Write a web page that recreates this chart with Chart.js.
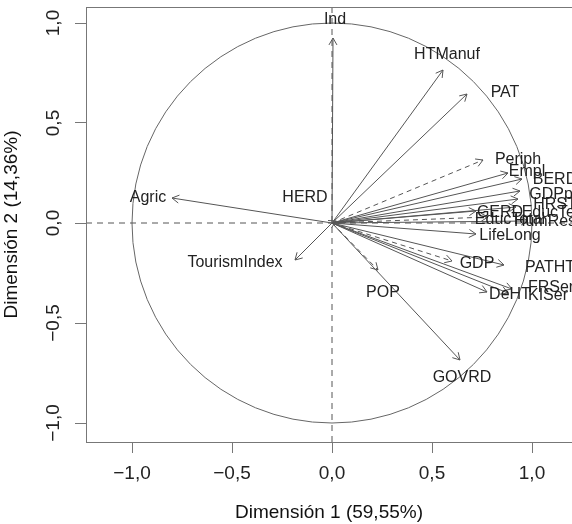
<!DOCTYPE html>
<html>
<head>
<meta charset="utf-8">
<script src="https://cdn.jsdelivr.net/npm/chart.js@4.4.1/dist/chart.umd.min.js"></script>
<style>
  html, body { margin: 0; padding: 0; background: #fff; }
  #wrap { width: 572px; height: 524px; position: relative; }
</style>
</head>
<body>
<div id="wrap"><canvas id="pca"></canvas></div>
<script>
// variable coordinates on the first two dimensions
const varNames = ['Ind', 'HTManuf', 'PAT', 'Periph', 'Empl', 'BERD', 'GDPpc', 'HRST', 'EducTerc',
    'GERD', 'EducTotal', 'HumRes', 'LifeLong', 'GDP', 'PATHT', 'FRServ', 'KISer', 'DeHT',
    'POP', 'GOVRD', 'Agric', 'TourismIndex', 'HERD'];
const dim1 = [0.005, 0.555, 0.675, 0.755, 0.88, 0.95, 0.94, 0.93, 0.92,
    0.72, 0.78, 0.98, 0.72, 0.60, 0.86, 0.90, 0.88, 0.775,
    0.23, 0.64, -0.80, -0.185, 0.02];
const dim2 = [0.925, 0.765, 0.645, 0.315, 0.25, 0.22, 0.16, 0.12, 0.08,
    0.06, 0.03, 0.01, -0.055, -0.19, -0.21, -0.33, -0.35, -0.345,
    -0.235, -0.685, 0.125, -0.185, 0.01];
// dashed = supplementary variable
const supplementary = [false, false, false, true, false, false, false, false, false,
    false, true, false, false, true, false, false, false, false,
    true, false, false, false, false];
// where each label sits (data units)
const labelX = [0.015, 0.575, 0.865, 0.93, 0.975, 1.115, 1.115, 1.115, 1.115,
    0.84, 0.89, 1.065, 0.89, 0.725, 1.09, 1.115, 1.08, 0.89,
    0.255, 0.65, -0.92, -0.485, -0.135];
const labelY = [1.015, 0.84, 0.65, 0.315, 0.255, 0.215, 0.14, 0.09, 0.05,
    0.05, 0.015, 0.005, -0.065, -0.205, -0.225, -0.325, -0.365, -0.36,
    -0.35, -0.775, 0.125, -0.2, 0.125];

const tickValues = [-1, -0.5, 0, 0.5, 1];
const tickLabels = ['\u22121,0', '\u22120,5', '0,0', '0,5', '1,0'];
const xTitle = 'Dimensi\u00f3n 1 (59,55%)';
const yTitle = 'Dimensi\u00f3n 2 (14,36%)';

const FONT = '"Liberation Sans", Arial, sans-serif';
const LINE = '#555';
const TEXT = '#222';

const datasets = varNames.map((name, i) => ({
    label: name,
    data: [{ x: 0, y: 0 }, { x: dim1[i], y: dim2[i] }],
    borderColor: LINE,
    borderWidth: 1,
    borderDash: supplementary[i] ? [5, 4] : [],
    pointRadius: 0,
    showLine: true,
    fill: false
}));

const decor = {
    id: 'decor',
    beforeDatasetsDraw(chart) {
        const { ctx, chartArea: a, scales: { x, y } } = chart;
        ctx.save();
        // correlation circle
        const cx = x.getPixelForValue(0), cy = y.getPixelForValue(0);
        const r = x.getPixelForValue(1) - cx;
        ctx.strokeStyle = '#666';
        ctx.lineWidth = 1;
        ctx.beginPath();
        ctx.arc(cx, cy, r, 0, Math.PI * 2);
        ctx.stroke();
        // zero lines
        ctx.setLineDash([6, 5]);
        ctx.strokeStyle = '#555';
        ctx.beginPath();
        ctx.moveTo(a.left, cy); ctx.lineTo(a.right, cy);
        ctx.moveTo(cx, a.top); ctx.lineTo(cx, a.bottom);
        ctx.stroke();
        ctx.restore();
    },
    afterDatasetsDraw(chart) {
        const { ctx, chartArea: a, scales: { x, y } } = chart;
        ctx.save();
        // arrow heads
        ctx.strokeStyle = LINE;
        ctx.lineWidth = 1;
        chart.data.datasets.forEach((ds, i) => {
            const pts = chart.getDatasetMeta(i).data;
            const x0 = pts[0].x, y0 = pts[0].y, x1 = pts[1].x, y1 = pts[1].y;
            const ang = Math.atan2(y1 - y0, x1 - x0);
            const len = 8;
            ctx.beginPath();
            ctx.moveTo(x1 - len * Math.cos(ang - Math.PI / 6), y1 - len * Math.sin(ang - Math.PI / 6));
            ctx.lineTo(x1, y1);
            ctx.lineTo(x1 - len * Math.cos(ang + Math.PI / 6), y1 - len * Math.sin(ang + Math.PI / 6));
            ctx.stroke();
        });
        // labels
        ctx.fillStyle = TEXT;
        ctx.font = '16px ' + FONT;
        ctx.textAlign = 'center';
        ctx.textBaseline = 'middle';
        varNames.forEach((name, i) => {
            ctx.fillText(name, x.getPixelForValue(labelX[i]), y.getPixelForValue(labelY[i]));
        });
        // box
        ctx.strokeStyle = '#777';
        ctx.strokeRect(a.left + 0.5, a.top + 0.5, a.right - a.left + 20, a.bottom - a.top);
        // rotated y tick labels
        ctx.fillStyle = TEXT;
        ctx.font = '19px ' + FONT;
        tickValues.forEach((v, i) => {
            ctx.save();
            ctx.translate(a.left - 32, y.getPixelForValue(v));
            ctx.rotate(-Math.PI / 2);
            ctx.fillText(tickLabels[i], 0, 0);
            ctx.restore();
        });
        ctx.restore();
    }
};

new Chart(document.getElementById('pca'), {
    type: 'scatter',
    data: { datasets },
    options: {
        responsive: true,
        maintainAspectRatio: false,
        animation: false,
        layout: { padding: { top: 7, right: 0, left: 0, bottom: 0 } },
        plugins: {
            legend: { display: false },
            tooltip: { enabled: false }
        },
        scales: {
            x: {
                type: 'linear',
                min: -1.23,
                max: 1.2,
                afterBuildTicks: s => { s.ticks = tickValues.map(v => ({ value: v })); },
                afterFit: s => { s.height = 82; },
                ticks: {
                    callback: v => tickLabels[tickValues.indexOf(v)],
                    color: TEXT,
                    font: { family: FONT, size: 19 },
                    padding: 9,
                    maxRotation: 0
                },
                grid: { drawOnChartArea: false, drawTicks: true, tickLength: 11, color: '#777' },
                border: { display: false },
                title: {
                    display: true,
                    text: xTitle,
                    color: '#111',
                    font: { family: FONT, size: 19 },
                    padding: { top: 4, bottom: 0 }
                }
            },
            y: {
                type: 'linear',
                min: -1.095,
                max: 1.08,
                afterBuildTicks: s => { s.ticks = tickValues.map(v => ({ value: v })); },
                afterFit: s => { s.width = 86; },
                ticks: { display: false },
                grid: { drawOnChartArea: false, drawTicks: true, tickLength: 11, color: '#777' },
                border: { display: false },
                title: {
                    display: true,
                    text: yTitle,
                    color: '#111',
                    font: { family: FONT, size: 19 },
                    padding: { top: 0, bottom: 0 }
                }
            }
        }
    },
    plugins: [decor]
});
</script>
</body>
</html>
